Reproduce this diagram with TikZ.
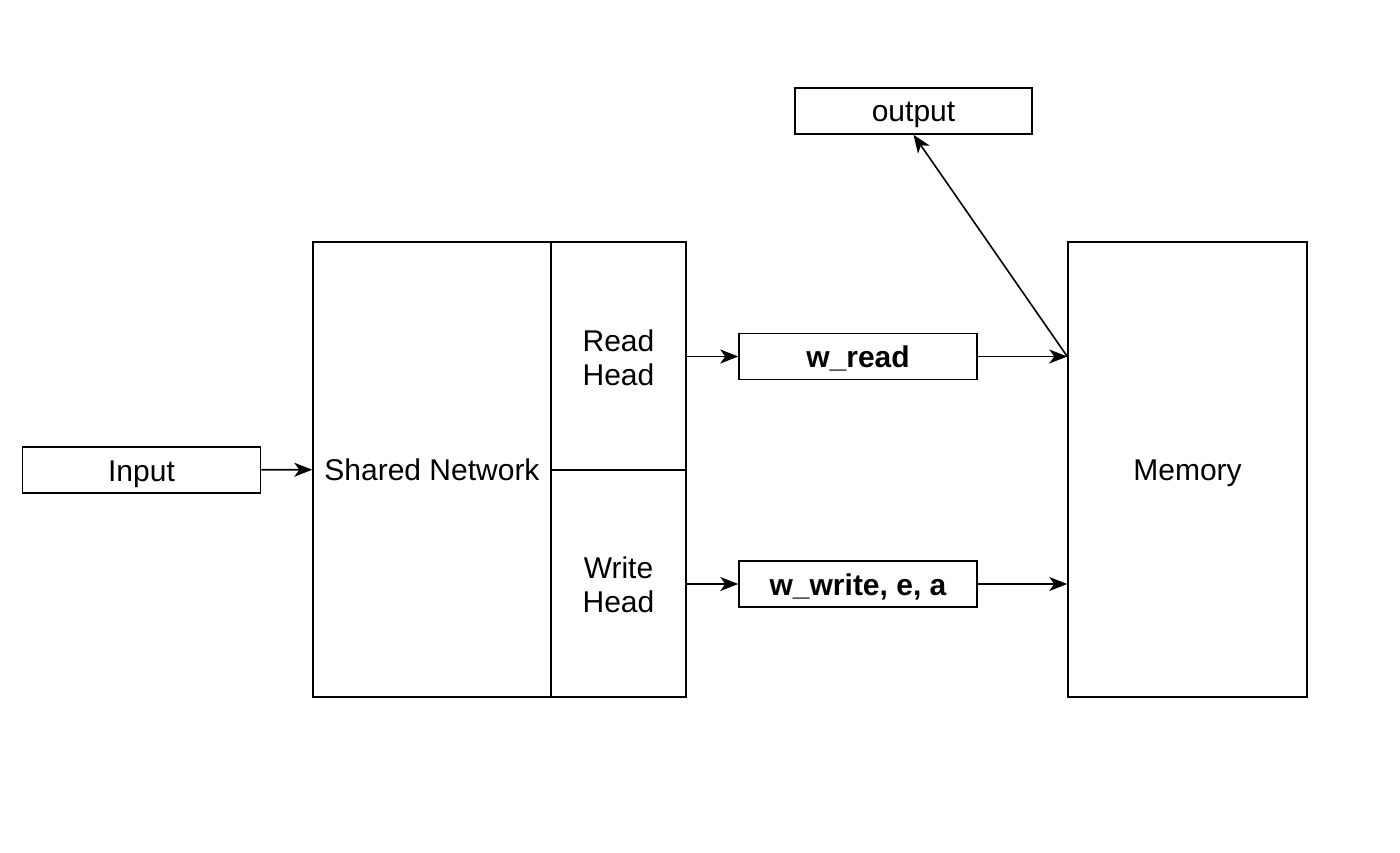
\documentclass[tikz,border=0pt]{standalone}
\usepackage{fontspec}
\setmainfont{Liberation Sans}
\usetikzlibrary{arrows.meta,positioning}

\begin{document}
\begin{tikzpicture}[x=1pt,y=-1pt,
  every node/.style={font=\fontsize{30}{34}\selectfont, text height=22pt, text depth=0pt},
  box/.style={draw, line width=1.5pt, inner sep=0pt, align=center},
  twoline/.style={text height=58pt},
  flow/.style={draw, line width=1.6pt, -{Stealth[length=18pt,width=14pt,inset=5pt]}},
  wide/.style={box, minimum width=238pt, minimum height=46pt}
]
  \useasboundingbox (0,0) rectangle (1400,853);

  % left input
  \node[wide] (input) at (141.5,470) {Input};

  % controller: shared trunk with read and write heads
  \node[box, minimum width=238pt, minimum height=455pt] (shared) at (432,469.5) {Shared Network};
  \node[box, twoline, minimum width=135pt, minimum height=228pt] (rhead) at (618.5,356) {Read\\Head};
  \node[box, twoline, minimum width=135pt, minimum height=227pt] (whead) at (618.5,583.5) {Write\\Head};

  % head outputs
  \node[wide, font=\fontsize{30}{34}\selectfont\bfseries] (wread) at (858,356.5) {w\_read};
  \node[wide, font=\fontsize{30}{34}\selectfont\bfseries] (wwrite) at (858,584) {w\_write, e, a};

  % memory and output
  \node[box, minimum width=239pt, minimum height=455pt] (memory) at (1187.5,469.5) {Memory};
  \node[wide, minimum width=237pt] (output) at (913.5,111) {output};

  \coordinate (mr) at (memory.west |- wread.east);

  \draw[flow] (input) -- (shared);
  \draw[flow] (rhead.east |- wread.west) -- (wread.west);
  \draw[flow] (whead.east |- wwrite.west) -- (wwrite.west);
  \draw[flow] (wread.east) -- (mr);
  \draw[flow] (wwrite.east) -- (memory.west |- wwrite.east);
  \draw[flow] (mr) -- (output.south);
\end{tikzpicture}
\end{document}
